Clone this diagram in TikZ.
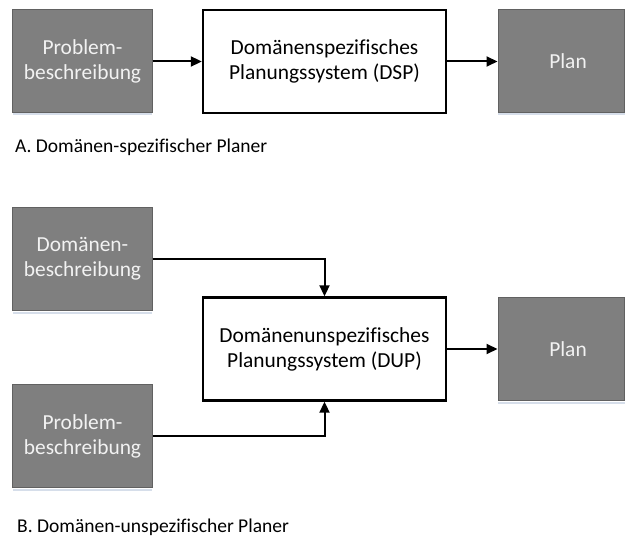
\documentclass[tikz,border=0pt]{standalone}
\usepackage{fontspec}
\setmainfont{Carlito}[Ligatures=NoCommon]
\usetikzlibrary{arrows.meta,calc}

\definecolor{boxgrey}{HTML}{7F7F7F}
\definecolor{boxedge}{HTML}{616161}
\definecolor{boxtextc}{HTML}{F2F2F2}
\definecolor{shade}{HTML}{D6DEEA}

\newcommand{\boxfont}{\fontsize{21.5}{25}\selectfont}

\tikzset{
  x=1bp, y=-1bp,
  greybox/.style={draw=boxedge, line width=1bp, fill=boxgrey, text=boxtextc,
    minimum width=139bp, minimum height=103bp, inner sep=0pt, align=center,
    font=\boxfont},
  sysbox/.style={draw=black, line width=2.4bp, fill=white, text=black,
    minimum width=243bp, minimum height=103bp, inner sep=0pt, align=center,
    font=\boxfont},
  planbox/.style={greybox, minimum width=126bp},
  plantext/.style={text=boxtextc, font=\boxfont, xshift=7bp},
  caption/.style={anchor=base west, inner sep=0pt, font=\fontsize{19.6}{23}\selectfont},
  flow/.style={draw=black, line width=2bp, -{Triangle[length=11bp,width=10bp]}},
  shadowline/.style={draw=shade, line width=2bp}
}

\begin{document}
\begin{tikzpicture}
\useasboundingbox (0,0) rectangle (625,539);

% soft shadow under the grey boxes
\foreach \xa/\xb/\yy in {13/152/114.5, 498/625/114.5, 13/152/312.5, 13/152/489.5, 498/625/402.5}
  \draw[shadowline] (\xa,\yy) -- (\xb,\yy);

% A: domain-specific planner
\node[greybox] (pa) at (82.5,61.5) {Problem-\\beschreibung};
\node[sysbox] (dsp) at (324.5,61.5) {Domänenspezifisches\\Planungssystem (DSP)};
\node[planbox, label={[plantext]center:Plan}] (plana) at (561,61.5) {};

\draw[flow] (pa.east) -- (dsp.west);
\draw[flow] (dsp.east) -- (plana.west);

\node[caption] (capa) at (15,153) {A. Domänen-spezifischer Planer};

% B: domain-independent planner
\node[greybox] (db) at (82.5,259) {Domänen-\\beschreibung};
\node[sysbox] (dup) at (324.5,349) {Domänenunspezifisches\\Planungssystem (DUP)};
\node[greybox] (pb) at (82.5,436) {Problem-\\beschreibung};
\node[planbox, label={[plantext]center:Plan}] (planb) at (561,349) {};

\draw[flow] (db.east) -| (dup.north);
\draw[flow] (pb.east) -| (dup.south);
\draw[flow] (dup.east) -- (planb.west);

\node[caption] (capb) at (17,532) {B. Domänen-unspezifischer Planer};
\end{tikzpicture}
\end{document}
